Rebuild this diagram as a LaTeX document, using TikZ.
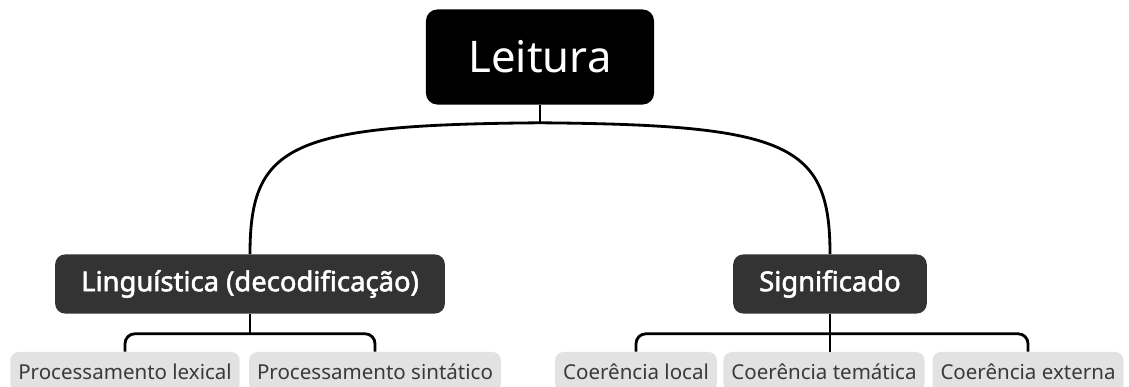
\documentclass[tikz,border=0pt]{standalone}
\usepackage{fontspec}
\setmainfont{Noto Sans}
\newfontfamily\topicfont{Noto Sans}[FakeBold=2]
\usetikzlibrary{calc, positioning}

\definecolor{topicgray}{HTML}{333333}
\definecolor{leafgray}{HTML}{E2E2E2}
\definecolor{leaftext}{HTML}{3A3A3A}

\tikzset{
    root/.style={fill=black, text=white, rounded corners=8pt, minimum width=5.7cm, minimum height=2.375cm, font=\fontsize{31}{34}\selectfont},
    topic/.style={fill=topicgray, text=white, rounded corners=7pt, inner xsep=0.65cm, minimum height=1.475cm, font=\topicfont\fontsize{19.5}{22}\selectfont},
    leaf/.style={fill=leafgray, text=leaftext, rounded corners=6pt, inner xsep=0.2cm, minimum height=1.0cm, font=\fontsize{14.6}{17}\selectfont},
    branch/.style={line width=2pt},
}

\begin{document}
\begin{tikzpicture}[x=0.025cm, y=-0.025cm]
    \useasboundingbox (0,0) rectangle (1129,387);

    % main idea
    \node[root] (leitura) at (540,57) {Leitura};

    % main topics
    \node[topic] (ling) at (250,284) {Linguística (decodificação)};
    \node[topic] (signif) at (830,284) {Significado};

    % subtopics
    \node[leaf] (lex) at (125,372) {Processamento lexical};
    \node[leaf] (sint) at (375,372) {Processamento sintático};
    \node[leaf] (local) at (636,372) {Coerência local};
    \node[leaf] (tematica) at (824,372) {Coerência temática};
    \node[leaf] (externa) at (1028,372) {Coerência externa};

    % curves from the root
    \coordinate (split) at ($(leitura.south)+(0,18)$);
    \draw[branch] (leitura.south) -- (split);
    \draw[branch] (split) .. controls ($(split)+(-250,2)$) and ($(ling.north)+(0,-110)$) .. (ling.north);
    \draw[branch] (split) .. controls ($(split)+(250,2)$) and ($(signif.north)+(0,-110)$) .. (signif.north);

    % brackets to the subtopics
    \coordinate (lbar) at ($(ling.south)+(0,20)$);
    \draw[branch] (ling.south) -- (lbar);
    \draw[branch, rounded corners=7pt] (lex.north) |- (lbar) -| (sint.north);

    \coordinate (sbar) at ($(signif.south)+(0,20)$);
    \draw[branch] (signif.south) -- (tematica.north -| signif.south);
    \draw[branch, rounded corners=7pt] (local.north) |- (sbar) -| (externa.north);
\end{tikzpicture}
\end{document}
